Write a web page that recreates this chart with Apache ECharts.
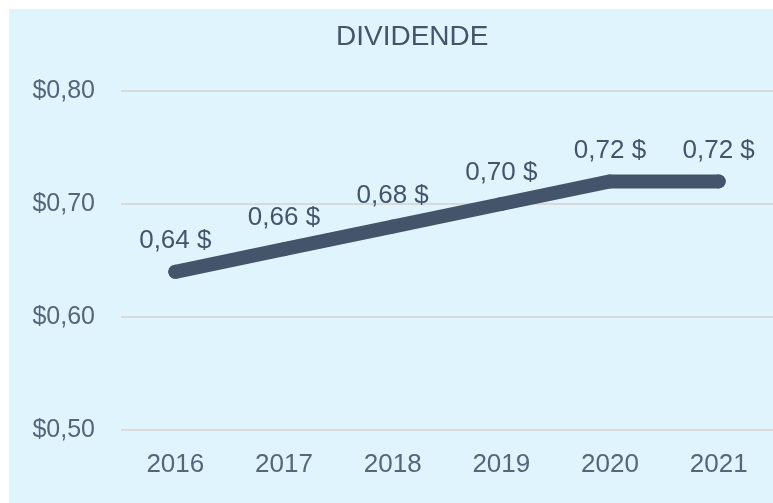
<!DOCTYPE html>
<html>
<head>
<meta charset="utf-8">
<script src="https://cdn.jsdelivr.net/npm/echarts@6/dist/echarts.min.js"></script>
<style>
  html, body { margin: 0; padding: 0; background: #ffffff; }
  #panel { position: absolute; left: 9px; top: 9px; width: 764px; height: 494px; background: #e0f4fd; }
  #chart { position: absolute; left: 0; top: 0; width: 773px; height: 503px; }
</style>
</head>
<body>
<div id="panel"></div>
<div id="chart"></div>
<script>
const years = ['2016', '2017', '2018', '2019', '2020', '2021'];
const dividends = [0.64, 0.66, 0.68, 0.70, 0.72, 0.72];
const yMin = 0.5;
const yMax = 0.8;
const yStep = 0.1;

const textColor = '#44546a';
const axisColor = '#56657a';
const font = 'Liberation Sans';

const chart = echarts.init(document.getElementById('chart'));

chart.setOption({
  backgroundColor: 'transparent',
  animation: false,
  title: {
    text: 'DIVIDENDE',
    left: 331,
    top: 18,
    textStyle: { color: textColor, fontSize: 28, fontWeight: 'normal', fontFamily: font },
  },
  grid: { left: 121, right: -7, top: 91, bottom: 73 },
  xAxis: {
    type: 'category',
    data: years,
    axisLine: { show: false },
    axisTick: { show: false },
    axisLabel: { color: axisColor, fontSize: 26, fontFamily: font, margin: 22 },
  },
  yAxis: {
    type: 'value',
    min: yMin,
    max: yMax,
    interval: yStep,
    axisLine: { show: false },
    axisTick: { show: false },
    axisLabel: {
      color: axisColor,
      fontSize: 25,
      fontFamily: font,
      margin: 26,
      formatter: (v) => '$' + v.toFixed(2).replace('.', ','),
    },
    splitLine: { lineStyle: { color: '#d9d9d9', width: 2 } },
  },
  series: [
    {
      type: 'line',
      data: dividends,
      symbol: 'circle',
      symbolSize: 14,
      itemStyle: { color: textColor },
      lineStyle: { color: textColor, width: 14, cap: 'round', join: 'round' },
      label: {
        show: true,
        position: 'top',
        distance: 11,
        color: textColor,
        fontSize: 26,
        fontFamily: font,
        formatter: (p) => p.value.toFixed(2).replace('.', ',') + ' $',
      },
    },
  ],
});
</script>
</body>
</html>
